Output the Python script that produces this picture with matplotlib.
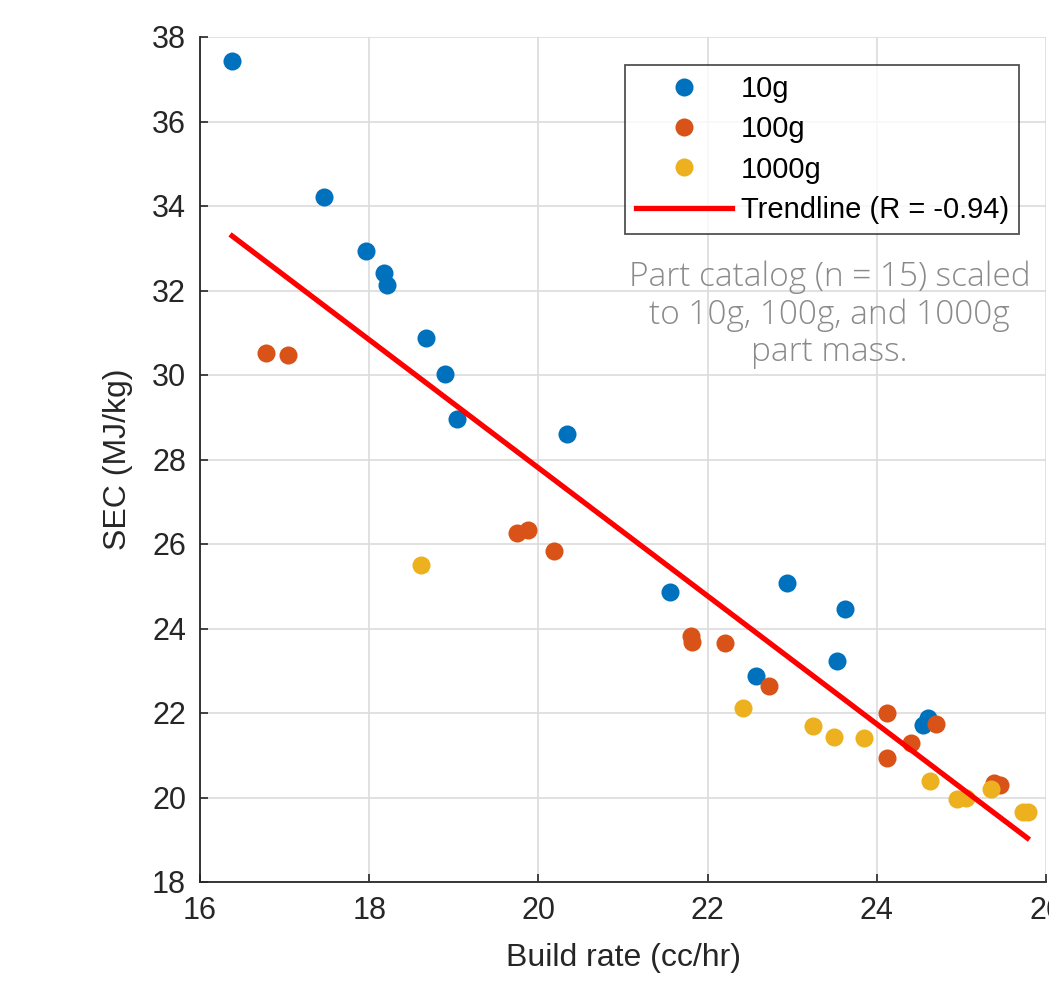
import matplotlib
matplotlib.use("Agg")
import matplotlib.pyplot as plt
from matplotlib import font_manager

# ---- data ----
x_10g = [16.38, 17.46, 17.96, 18.17, 18.21, 18.67, 18.90, 19.04, 20.34,
         21.56, 22.94, 23.62, 22.57, 23.53, 24.61, 24.55]
y_10g = [37.43, 34.21, 32.93, 32.41, 32.13, 30.88, 30.02, 28.96, 28.60,
         24.86, 25.08, 24.46, 22.88, 23.23, 21.88, 21.71]

x_100g = [16.78, 17.04, 19.75, 19.88, 20.18, 21.80, 21.82, 22.21, 22.73,
          24.12, 24.40, 24.12, 24.70, 25.38, 25.46]
y_100g = [30.52, 30.47, 26.26, 26.33, 25.83, 23.82, 23.68, 23.66, 22.64,
          22.00, 21.29, 20.93, 21.74, 20.34, 20.30]

x_1000g = [18.61, 22.42, 23.24, 23.49, 23.85, 24.63, 24.95, 25.05, 25.35,
           25.73, 25.79]
y_1000g = [25.50, 22.12, 21.69, 21.43, 21.41, 20.39, 19.96, 19.99, 20.20,
           19.66, 19.66]

trend_x = [16.38, 25.78]
trend_y = [33.29, 19.04]

x_ticks = [16, 18, 20, 22, 24, 26]
y_ticks = [18, 20, 22, 24, 26, 28, 30, 32, 34, 36, 38]

names = {f.name for f in font_manager.fontManager.ttflist}
axfont = "Liberation Sans Narrow" if "Liberation Sans Narrow" in names else "Liberation Sans"

fig = plt.figure(figsize=(10.49, 9.93), dpi=100)
ax = fig.add_axes([200/1049, (993-882)/993, 846/1049, 845/993])

c1, c2, c3 = "#0072BD", "#D95319", "#EDB120"
ms = 13
ax.plot(x_10g, y_10g, "o", color=c1, ms=ms, mec="none", label="10g", zorder=3)
ax.plot(x_100g, y_100g, "o", color=c2, ms=ms, mec="none", label="100g", zorder=3)
ax.plot(x_1000g, y_1000g, "o", color=c3, ms=ms, mec="none", label="1000g", zorder=3)
ax.plot(trend_x, trend_y, "-", color="#FF0000", lw=3.8, label="Trendline (R = -0.94)", zorder=4)

ax.set_xlim(16, 26)
ax.set_ylim(18, 38)
ax.set_xticks(x_ticks)
ax.set_yticks(y_ticks)
ax.grid(True, color="#DCDCDC", lw=1.2)
ax.set_axisbelow(True)
for s in ["top", "right"]:
    ax.spines[s].set_visible(False)
for s in ["left", "bottom"]:
    ax.spines[s].set_color("#262626")
    ax.spines[s].set_linewidth(1.3)
ax.tick_params(direction="in", length=6, width=1.2, colors="#262626",
               labelsize=22, pad=10)
for lab in ax.get_xticklabels() + ax.get_yticklabels():
    lab.set_family(axfont)
    lab.set_color("#262626")

ax.set_xlabel("Build rate (cc/hr)", fontsize=23, family=axfont, color="#262626", labelpad=12)
ax.set_ylabel("SEC (MJ/kg)", fontsize=23, family=axfont, color="#262626", labelpad=14)

leg = ax.legend(loc="upper right", bbox_to_anchor=(0.968, 0.967), borderaxespad=0,
                prop={"family": axfont, "size": 21}, frameon=True, fancybox=False,
                edgecolor="#262626", handlelength=3.3, handletextpad=0.3,
                labelspacing=0.42, borderpad=0.35)
leg.get_frame().set_linewidth(1.3)

ax.text(0.744, 0.735, "Part catalog (n = 15) scaled\nto 10g, 100g, and 1000g\npart mass.",
        transform=ax.transAxes, ha="center", va="top", fontsize=24,
        family=["Open Sans", "Lato", "DejaVu Sans"], fontweight="light",
        color="#8a8a8a", linespacing=1.15)

fig.savefig("out.png", dpi=100)
